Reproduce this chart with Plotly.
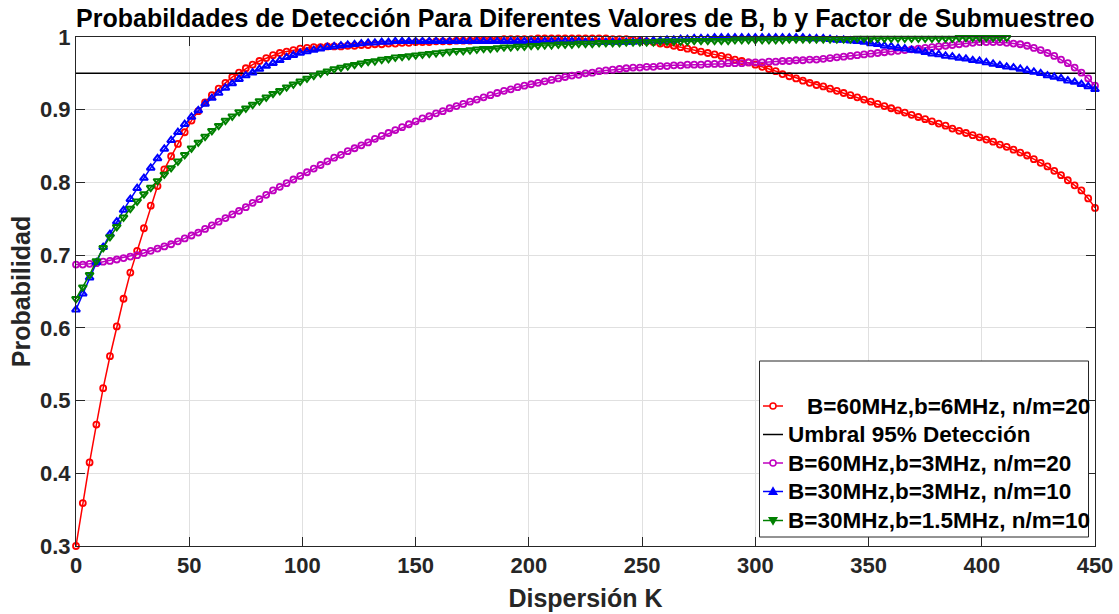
import numpy as np
import plotly.graph_objects as go

# Dispersion values K (common grid, step 3)
K = np.arange(0, 451, 3)

# Detection probability, B=60MHz, b=6MHz, n/m=20
p_b60_b6 = [
    0.300, 0.359, 0.415, 0.467, 0.517, 0.561, 0.602, 0.640, 0.676, 0.706,
    0.737, 0.768, 0.795, 0.818, 0.836, 0.853, 0.869, 0.885, 0.898, 0.910,
    0.920, 0.929, 0.937, 0.945, 0.951, 0.957, 0.962, 0.967, 0.971, 0.975,
    0.978, 0.980, 0.982, 0.984, 0.985, 0.986, 0.986, 0.987, 0.987, 0.987,
    0.988, 0.988, 0.989, 0.989, 0.990, 0.990, 0.991, 0.991, 0.992, 0.992,
    0.993, 0.993, 0.993, 0.994, 0.994, 0.994, 0.995, 0.995, 0.995, 0.996,
    0.996, 0.996, 0.996, 0.997, 0.997, 0.997, 0.997, 0.997, 0.998, 0.998,
    0.998, 0.998, 0.998, 0.998, 0.998, 0.998, 0.998, 0.998, 0.998, 0.997,
    0.997, 0.997, 0.996, 0.995, 0.994, 0.993, 0.991, 0.990, 0.988, 0.986,
    0.984, 0.982, 0.980, 0.978, 0.976, 0.974, 0.972, 0.969, 0.967, 0.965,
    0.962, 0.959, 0.956, 0.953, 0.949, 0.946, 0.943, 0.940, 0.937, 0.934,
    0.932, 0.929, 0.926, 0.923, 0.920, 0.917, 0.914, 0.911, 0.908, 0.905,
    0.902, 0.899, 0.896, 0.893, 0.890, 0.887, 0.884, 0.881, 0.878, 0.874,
    0.871, 0.868, 0.865, 0.862, 0.859, 0.856, 0.852, 0.849, 0.845, 0.841,
    0.837, 0.832, 0.827, 0.822, 0.816, 0.810, 0.803, 0.796, 0.789, 0.778,
    0.765,
]

# Detection probability, B=60MHz, b=3MHz, n/m=20
p_b60_b3 = [
    0.687, 0.687, 0.688, 0.689, 0.691, 0.692, 0.694, 0.696, 0.698, 0.700,
    0.703, 0.706, 0.709, 0.712, 0.715, 0.719, 0.723, 0.727, 0.731, 0.736,
    0.741, 0.746, 0.751, 0.756, 0.761, 0.766, 0.772, 0.777, 0.783, 0.789,
    0.794, 0.799, 0.804, 0.809, 0.814, 0.819, 0.824, 0.829, 0.834, 0.838,
    0.843, 0.847, 0.851, 0.855, 0.860, 0.864, 0.868, 0.872, 0.876, 0.880,
    0.884, 0.888, 0.891, 0.895, 0.898, 0.902, 0.905, 0.908, 0.911, 0.914,
    0.917, 0.920, 0.923, 0.926, 0.928, 0.931, 0.933, 0.935, 0.937, 0.939,
    0.941, 0.943, 0.945, 0.947, 0.948, 0.950, 0.951, 0.953, 0.954, 0.955,
    0.956, 0.957, 0.958, 0.958, 0.959, 0.959, 0.960, 0.960, 0.961, 0.961,
    0.962, 0.962, 0.962, 0.963, 0.963, 0.963, 0.964, 0.964, 0.964, 0.965,
    0.965, 0.965, 0.966, 0.966, 0.967, 0.967, 0.968, 0.968, 0.969, 0.969,
    0.970, 0.971, 0.972, 0.973, 0.974, 0.975, 0.976, 0.977, 0.978, 0.979,
    0.980, 0.981, 0.982, 0.983, 0.984, 0.985, 0.986, 0.987, 0.988, 0.989,
    0.990, 0.991, 0.992, 0.993, 0.993, 0.993, 0.993, 0.992, 0.991, 0.990,
    0.988, 0.985, 0.982, 0.978, 0.974, 0.969, 0.964, 0.958, 0.951, 0.943,
    0.933,
]

# Detection probability, B=30MHz, b=3MHz, n/m=10
p_b30_b3 = [
    0.625, 0.647, 0.669, 0.690, 0.711, 0.729, 0.746, 0.762, 0.777, 0.792,
    0.806, 0.820, 0.833, 0.846, 0.858, 0.869, 0.880, 0.890, 0.899, 0.908,
    0.916, 0.923, 0.930, 0.936, 0.942, 0.947, 0.951, 0.956, 0.960, 0.964,
    0.968, 0.972, 0.975, 0.978, 0.980, 0.982, 0.984, 0.986, 0.987, 0.988,
    0.989, 0.990, 0.991, 0.992, 0.992, 0.993, 0.993, 0.994, 0.994, 0.994,
    0.994, 0.994, 0.994, 0.994, 0.994, 0.994, 0.994, 0.994, 0.994, 0.994,
    0.994, 0.994, 0.994, 0.994, 0.994, 0.994, 0.994, 0.994, 0.994, 0.994,
    0.994, 0.994, 0.994, 0.994, 0.994, 0.993, 0.993, 0.993, 0.993, 0.993,
    0.993, 0.993, 0.993, 0.994, 0.994, 0.995, 0.995, 0.996, 0.996, 0.997,
    0.997, 0.998, 0.998, 0.998, 0.999, 0.999, 0.999, 0.999, 0.999, 0.999,
    0.999, 0.999, 0.999, 0.999, 0.999, 0.999, 0.999, 0.999, 0.998, 0.998,
    0.998, 0.997, 0.996, 0.996, 0.995, 0.994, 0.993, 0.991, 0.990, 0.988,
    0.987, 0.985, 0.984, 0.982, 0.981, 0.979, 0.977, 0.976, 0.974, 0.973,
    0.971, 0.970, 0.968, 0.967, 0.965, 0.963, 0.961, 0.959, 0.958, 0.956,
    0.954, 0.952, 0.950, 0.947, 0.945, 0.943, 0.940, 0.938, 0.935, 0.932,
    0.928,
]

# Detection probability, B=30MHz, b=1.5MHz, n/m=10 (computed up to K=411)
p_b30_b15 = [
    0.640, 0.656, 0.673, 0.692, 0.710, 0.725, 0.739, 0.752, 0.764, 0.774,
    0.784, 0.793, 0.802, 0.811, 0.820, 0.829, 0.838, 0.847, 0.855, 0.863,
    0.871, 0.878, 0.885, 0.891, 0.897, 0.902, 0.907, 0.912, 0.917, 0.922,
    0.926, 0.931, 0.935, 0.939, 0.943, 0.947, 0.950, 0.953, 0.956, 0.958,
    0.960, 0.962, 0.964, 0.966, 0.967, 0.969, 0.970, 0.972, 0.973, 0.974,
    0.975, 0.976, 0.977, 0.978, 0.979, 0.980, 0.981, 0.981, 0.982, 0.983,
    0.984, 0.984, 0.985, 0.986, 0.986, 0.987, 0.987, 0.988, 0.988, 0.989,
    0.989, 0.990, 0.990, 0.990, 0.991, 0.991, 0.991, 0.992, 0.992, 0.992,
    0.992, 0.993, 0.993, 0.993, 0.993, 0.993, 0.994, 0.994, 0.994, 0.994,
    0.994, 0.995, 0.995, 0.995, 0.995, 0.995, 0.995, 0.996, 0.996, 0.996,
    0.996, 0.996, 0.996, 0.996, 0.996, 0.997, 0.997, 0.997, 0.997, 0.997,
    0.997, 0.997, 0.997, 0.997, 0.997, 0.998, 0.998, 0.998, 0.998, 0.998,
    0.998, 0.998, 0.998, 0.998, 0.998, 0.998, 0.998, 0.998, 0.998, 0.998,
    0.999, 0.999, 0.999, 0.999, 0.999, 0.999, 0.999, 0.999,
]

# 95 % detection threshold
threshold = 0.95
threshold_k = [0, 450]

x_ticks = [0, 50, 100, 150, 200, 250, 300, 350, 400, 450]
y_ticks = [0.3, 0.4, 0.5, 0.6, 0.7, 0.8, 0.9, 1.0]
y_tick_text = ["0.3", "0.4", "0.5", "0.6", "0.7", "0.8", "0.9", "1"]

legend_names = [
    "B=60MHz,b=6MHz, n/m=20",
    "Umbral 95% Detección",
    "B=60MHz,b=3MHz, n/m=20",
    "B=30MHz,b=3MHz, n/m=10",
    "B=30MHz,b=1.5MHz, n/m=10",
]

FONT = "Liberation Sans, Arial, Helvetica, sans-serif"
AX = "#262626"
RED, BLACK, MAG, BLUE, GREEN = "#ff0000", "#000000", "#bf00bf", "#0000ff", "#008000"

# plot-area geometry in pixels (used to place the boxed legend)
W, H = 1119, 614
ML, MR, MT, MB = 76, 24, 37, 68
PX_L, PX_R, PX_T, PX_B = ML, W - MR, MT, H - MB


def fx(p):
    return (p - PX_L) / (PX_R - PX_L)


def fy(p):
    return (PX_B - p) / (PX_B - PX_T)


fig = go.Figure()


def series(vals, name, color, symbol, size, mlw):
    n = len(vals)
    fig.add_trace(go.Scatter(
        x=K[:n], y=vals, name=name, mode="lines+markers",
        line=dict(color=color, width=1.5),
        marker=dict(symbol=symbol, size=size, color=color,
                    line=dict(color=color, width=mlw)),
        cliponaxis=False, showlegend=False,
    ))


series(p_b60_b6, legend_names[0], RED, "circle-open", 6, 1.8)

fig.add_trace(go.Scatter(
    x=threshold_k, y=[threshold] * len(threshold_k),
    name=legend_names[1], mode="lines",
    line=dict(color=BLACK, width=1.5), showlegend=False,
))

series(p_b60_b3, legend_names[2], MAG, "circle-open", 6, 1.8)
series(p_b30_b3, legend_names[3], BLUE, "triangle-up-open", 7, 2.0)
series(p_b30_b15, legend_names[4], GREEN, "triangle-down-open", 7, 2.0)

axis_common = dict(
    showline=True, linecolor=AX, linewidth=1, mirror="ticks",
    ticks="inside", ticklen=9, tickwidth=1, tickcolor=AX,
    showgrid=True, gridcolor="#e0e0e0", gridwidth=1,
    zeroline=False, automargin=False,
    tickfont=dict(family=FONT, size=22, color=AX, weight="bold"),
)

fig.update_xaxes(
    range=[0, 450], tickvals=x_ticks,
    title=dict(text="Dispersión K", standoff=12,
               font=dict(family=FONT, size=25, color=AX, weight="bold")),
    **axis_common,
)
fig.update_yaxes(
    range=[0.3, 1.0], tickvals=y_ticks, ticktext=y_tick_text,
    title=dict(text="Probabilidad", standoff=2,
               font=dict(family=FONT, size=25, color=AX, weight="bold")),
    **axis_common,
)

# boxed legend
shapes = [dict(
    type="rect", xref="paper", yref="paper", layer="above",
    x0=fx(759.5), x1=fx(1088.5), y0=fy(537), y1=fy(361),
    line=dict(color=AX, width=1), fillcolor="white",
)]
annotations = []
row_y = [406, 434.5, 463, 491.5, 520.5]
colors = [RED, BLACK, MAG, BLUE, GREEN]
kinds = ["circle", None, "circle", "up", "down"]
text_x = [805, 786, 786, 786, 786]
sx0, sx1, sxc = 763, 783, 773
for yy, col, kind, tx, name in zip(row_y, colors, kinds, text_x, legend_names):
    shapes.append(dict(
        type="line", xref="paper", yref="paper", layer="above",
        x0=fx(sx0), x1=fx(sx1), y0=fy(yy), y1=fy(yy),
        line=dict(color=col, width=1.5),
    ))
    if kind == "circle":
        shapes.append(dict(
            type="circle", xref="paper", yref="paper", layer="above",
            x0=fx(sxc - 3), x1=fx(sxc + 3), y0=fy(yy + 3), y1=fy(yy - 3),
            line=dict(color=col, width=1.5), fillcolor="white",
        ))
    elif kind in ("up", "down"):
        s = -1 if kind == "up" else 1
        pts = [(sxc, yy + s * 4), (sxc - 4, yy - s * 3), (sxc + 4, yy - s * 3)]
        path = "M {:.5f},{:.5f} L {:.5f},{:.5f} L {:.5f},{:.5f} Z".format(
            fx(pts[0][0]), fy(pts[0][1]), fx(pts[1][0]), fy(pts[1][1]),
            fx(pts[2][0]), fy(pts[2][1]))
        shapes.append(dict(
            type="path", xref="paper", yref="paper", layer="above",
            path=path, line=dict(color=col, width=1.2), fillcolor=col,
        ))
    annotations.append(dict(
        xref="paper", yref="paper", x=fx(tx), y=fy(yy),
        xanchor="left", yanchor="middle", showarrow=False, text=name,
        font=dict(family=FONT, size=22.5, color=BLACK, weight="bold"),
    ))

fig.update_layout(
    width=W, height=H,
    paper_bgcolor="white", plot_bgcolor="white",
    margin=dict(l=ML, r=MR, t=MT, b=MB, autoexpand=False),
    title=dict(
        text="Probabildades de Detección Para Diferentes Valores de B, b y Factor de Submuestreo",
        x=0.523, xanchor="center", y=1 - 18 / 614, yanchor="middle",
        font=dict(family=FONT, size=25, color="#000000", weight="bold"),
    ),
    shapes=shapes, annotations=annotations,
    showlegend=False,
)

fig.write_html("out.html")
